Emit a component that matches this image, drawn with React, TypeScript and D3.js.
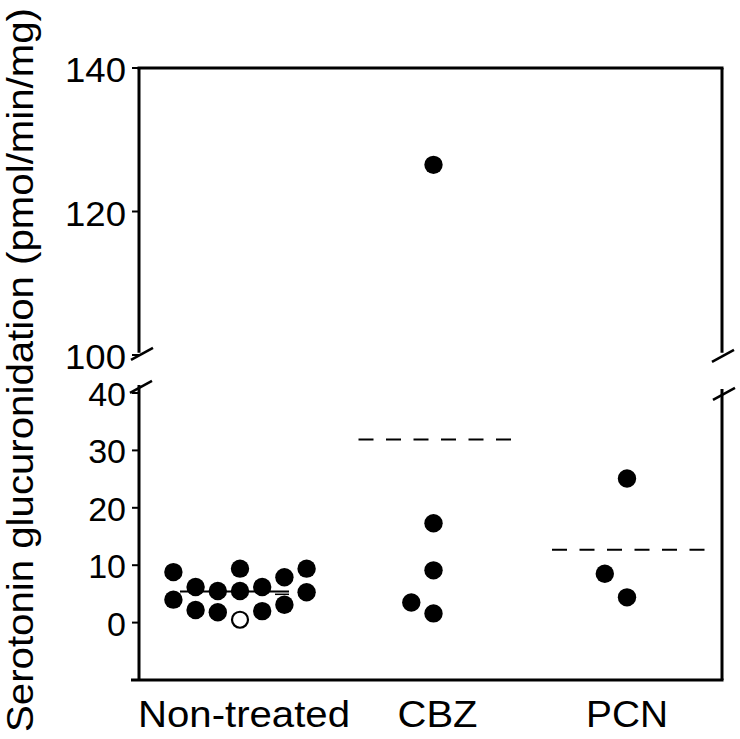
import React from "react";
import * as d3 from "d3";

const categories = ["Non-treated", "CBZ", "PCN"];

// points: [category, slot (beeswarm offset index), value, open]
const nonTreatedSlots = [-3, -3, -2, -2, -1, -1, 0, 0, 0, 1, 1, 2, 2, 3, 3];
const nonTreatedValues = [8.8, 4.0, 6.2, 2.2, 5.5, 1.8, 9.4, 5.5, 0.5, 6.2, 2.0, 7.9, 3.1, 9.4, 5.3];
const nonTreatedOpen = [false, false, false, false, false, false, false, false, true, false, false, false, false, false, false];

const cbzSlots = [0, 0, 0, -1, 0];
const cbzValues = [126.5, 17.3, 9.1, 3.5, 1.6];

const pcnSlots = [0, -1, 0];
const pcnValues = [25.1, 8.5, 4.4];

const meanValues = [5.4, 31.9, 12.7];

const upperTicks = [100, 120, 140];
const lowerTicks = [0, 10, 20, 30, 40];

const yTitle = "Serotonin glucuronidation (pmol/min/mg)";

const FONT = "'Liberation Sans', Arial, Helvetica, sans-serif";

export default function App() {
  const left = 139;
  const right = 722;
  const top = 68;
  const bottom = 680;

  const yUpper = d3.scaleLinear().domain([100, 140]).range([355, 68]);
  const yLower = d3.scaleLinear().domain([-10, 40]).range([680, 393]);
  const y = (v: number) => (v > 60 ? yUpper(v) : yLower(v));

  const x = d3.scalePoint<string>().domain(categories).range([240, 627]);
  const slot = d3.scaleLinear().domain([0, 1]).range([0, 22.2]);

  type P = { cat: string; s: number; v: number; open: boolean };
  const points: P[] = [
    ...nonTreatedValues.map((v, i) => ({ cat: categories[0], s: nonTreatedSlots[i], v, open: nonTreatedOpen[i] })),
    ...cbzValues.map((v, i) => ({ cat: categories[1], s: cbzSlots[i], v, open: false })),
    ...pcnValues.map((v, i) => ({ cat: categories[2], s: pcnSlots[i], v, open: false })),
  ];

  const upperAxisEnd = yUpper(100.3);
  const lowerAxisStart = yLower(41.4);
  const sw = 3;

  const brk = (cx: number, cy: number) => (
    <line x1={cx - 11} y1={cy + 6} x2={cx + 11} y2={cy - 6} stroke="#000" strokeWidth={2.5} />
  );

  return (
    <svg
      width={740}
      height={739}
      style={{ position: "absolute", left: 0, top: 0, display: "block", background: "#fff" }}
      fontFamily={FONT}
    >
      <rect x={0} y={0} width={740} height={739} fill="#fff" />
      {/* frame: upper panel */}
      <line x1={left} y1={top} x2={left} y2={upperAxisEnd} stroke="#000" strokeWidth={sw} />
      <line x1={right} y1={top} x2={right} y2={upperAxisEnd} stroke="#000" strokeWidth={sw} />
      <line x1={left - 1.5} y1={top} x2={right + 1.5} y2={top} stroke="#000" strokeWidth={sw} />
      {/* frame: lower panel */}
      <line x1={left} y1={lowerAxisStart} x2={left} y2={bottom} stroke="#000" strokeWidth={sw} />
      <line x1={right} y1={lowerAxisStart + 4} x2={right} y2={bottom} stroke="#000" strokeWidth={sw} />
      <line x1={left - 8} y1={bottom} x2={right + 1.5} y2={bottom} stroke="#000" strokeWidth={sw} />
      {/* break marks */}
      {brk(left + 3, upperAxisEnd + 1)}
      {brk(left + 2, lowerAxisStart + 2)}
      {brk(right + 1, upperAxisEnd + 3)}
      {brk(right + 2, lowerAxisStart + 9)}

      {/* upper ticks */}
      {upperTicks.map((t) => (
        <g key={"u" + t}>
          <line x1={left - 7} y1={yUpper(t)} x2={left} y2={yUpper(t)} stroke="#000" strokeWidth={2} />
          <text x={126} y={yUpper(t) + 14} fontSize={35} textAnchor="end" textLength={61} lengthAdjust="spacingAndGlyphs">
            {t}
          </text>
        </g>
      ))}
      {/* lower ticks */}
      {lowerTicks.map((t) => (
        <g key={"l" + t}>
          <line x1={left - 7} y1={yLower(t)} x2={left} y2={yLower(t)} stroke="#000" strokeWidth={2} />
          <text x={126} y={yLower(t) + 13} fontSize={34} textAnchor="end">
            {t}
          </text>
        </g>
      ))}

      {/* y title */}
      <text
        transform={`translate(33,370) rotate(-90)`}
        fontSize={36}
        textAnchor="middle"
        textLength={724}
        lengthAdjust="spacingAndGlyphs"
      >
        {yTitle}
      </text>

      {/* x labels */}
      {categories.map((c, i) => (
        <text
          key={c}
          x={(x(c) as number) + (i === 2 ? 0 : 4)}
          y={727}
          fontSize={36}
          textAnchor="middle"
          textLength={[212, 80, 82][i]}
          lengthAdjust="spacingAndGlyphs"
        >
          {c}
        </text>
      ))}

      {/* mean lines */}
      <line
        x1={(x(categories[0]) as number) - 60}
        x2={(x(categories[0]) as number) + 49}
        y1={yLower(meanValues[0])}
        y2={yLower(meanValues[0])}
        stroke="#000"
        strokeWidth={2}
      />
      <line
        x1={(x(categories[0]) as number) + 35}
        x2={(x(categories[0]) as number) + 49}
        y1={yLower(meanValues[0]) + 2.7}
        y2={yLower(meanValues[0]) + 2.7}
        stroke="#000"
        strokeWidth={1.5}
      />
      {[1, 2].map((i) => (
        <line
          key={"m" + i}
          x1={(x(categories[i]) as number) - 75}
          x2={(x(categories[i]) as number) + 78}
          y1={yLower(meanValues[i])}
          y2={yLower(meanValues[i])}
          stroke="#000"
          strokeWidth={2}
          strokeDasharray="15,12.5"
        />
      ))}

      {/* points */}
      {points.map((p, i) => (
        <circle
          key={i}
          cx={(x(p.cat) as number) + slot(p.s)}
          cy={y(p.v)}
          r={p.open ? 8 : 9.2}
          fill={p.open ? "#fff" : "#000"}
          stroke="#000"
          strokeWidth={p.open ? 2.2 : 0}
        />
      ))}
    </svg>
  );
}
